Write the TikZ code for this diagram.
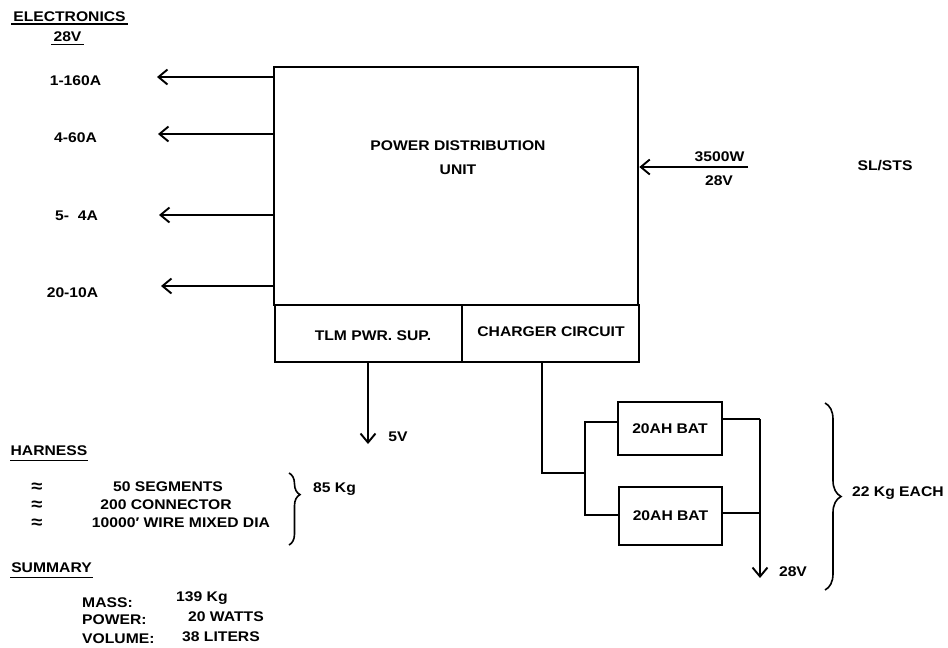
\documentclass[tikz,border=0pt]{standalone}
\usepackage{fontspec}
\setmainfont{Liberation Sans}[FakeStretch=1.12]
\usetikzlibrary{arrows.meta,decorations.pathreplacing,calc}
\begin{document}
\begin{tikzpicture}[x=1pt,y=-1pt,
  txt/.style={inner sep=0pt, font=\fontsize{14}{16}\selectfont\bfseries},
  box/.style={draw, line width=2.6pt, inner sep=0pt},
  bbox/.style={draw, line width=2.4pt, inner sep=0pt, txt},
  wire/.style={line width=1.7pt},
  arr/.style={wire, -{Straight Barb[length=9pt,width=15pt,line width=1.9pt]}},
  uline/.style={line width=1.5pt},
  brc/.style={line width=1.6pt, decorate, decoration={brace, amplitude=#1}},
  apx/.style={inner sep=0pt, font=\fontsize{18}{18}\selectfont\bfseries},
]
\useasboundingbox (0,0) rectangle (948,648);
% titles
\node[txt] (elec) at (69.5,17) {ELECTRONICS};
\draw[uline] (11,24) -- (128,24);
\node[txt] (e28) at (67.5,37) {28V};
\draw[uline] (51,44.5) -- (84,44.5);
% main box
\node[box, minimum width=364pt, minimum height=238pt] (pdu) at (456,186) {};
\node[txt, align=center] (pdutxt) at (458,158) {POWER DISTRIBUTION\\[8pt]UNIT};
\node[bbox, minimum width=187pt, minimum height=57pt] (tlm) at (368.5,333.5) {};
\node[bbox, minimum width=177pt, minimum height=57pt] (chg) at (550.5,333.5) {};
\node[txt] (tlmtxt) at (373,336) {TLM PWR. SUP.};
\node[txt] (chgtxt) at (551,331.5) {CHARGER CIRCUIT};
% outputs left
\coordinate (o1) at (157,77);
\coordinate (o2) at (158,134);
\coordinate (o3) at (159,215);
\coordinate (o4) at (161,286);
\foreach \i in {1,...,4} \draw[arr] (pdu.west |- o\i) -- (o\i);
\node[txt] (l1) at (75.5,81) {1-160A};
\node[txt] (l2) at (75.5,138) {4-60A};
\node[txt] (l3) at (76.5,216) {5-\ \ 4A};
\node[txt] (l4) at (72.5,293) {20-10A};
% input
\coordinate (inp) at (748,167);
\draw[arr] (inp) -- (pdu.east |- inp);
\node[txt] (w3500) at (719.5,157) {3500W};
\node[txt] (in28) at (719,181) {28V};
\node[txt] (sl) at (885,166) {SL/STS};
% 5V output
\coordinate (v5) at (368,444);
\draw[arr] (tlm.south -| v5) -- (v5);
\node[txt] (v5txt) at (398,437) {5V};
% batteries
\node[bbox, minimum width=104pt, minimum height=53pt] (bat1) at (670,428.5) {20AH BAT};
\node[bbox, minimum width=103pt, minimum height=58pt] (bat2) at (670.5,516) {20AH BAT};
\coordinate (cx) at (542,473);
\coordinate (jn) at (585,473);
\coordinate (b1l) at (585,422);
\coordinate (b2l) at (585,515);
\coordinate (b1r) at (760,419);
\coordinate (b2r) at (760,513);
\coordinate (v28) at (760,578);
\draw[wire] (chg.south -| cx) -- (cx) -- (jn);
\draw[wire] (bat1.west |- b1l) -- (b1l) -- (b2l) -- (bat2.west |- b2l);
\draw[wire] (bat1.east |- b1r) -- (b1r);
\draw[wire] (bat2.east |- b2r) -- (b2r);
\draw[arr] (b1r) -- (v28);
\node[txt] (v28txt) at (793,572) {28V};
\draw[brc=16pt] (825,403) -- (825,590);
\node[txt, anchor=west] (each) at (852,493) {22 Kg EACH};
% harness
\node[txt] (harn) at (49,451) {HARNESS};
\draw[uline] (10,460.5) -- (88,460.5);
\node[apx] (a1) at (37,488) {≈};
\node[apx] (a2) at (37,506) {≈};
\node[apx] (a3) at (37,524) {≈};
\node[txt] (h1) at (168,487) {50 SEGMENTS};
\node[txt] (h2) at (166,505) {200 CONNECTOR};
\node[txt] (h3) at (181,523) {10000′ WIRE MIXED DIA};
\draw[brc=11pt, decoration={aspect=0.3}] (289,473) -- (289,545);
\node[txt, anchor=west] (kg85) at (313,489) {85 Kg};
% summary
\node[txt] (summ) at (51.5,568) {SUMMARY};
\draw[uline] (10,577.5) -- (93,577.5);
\node[txt, anchor=west] (s1) at (82,603) {MASS:};
\node[txt, anchor=west] (s2) at (82,620) {POWER:};
\node[txt, anchor=west] (s3) at (82,639) {VOLUME:};
\node[txt, anchor=west] (v1) at (176,598) {139 Kg};
\node[txt, anchor=west] (v2) at (188,617) {20 WATTS};
\node[txt, anchor=west] (v3) at (182,637) {38 LITERS};
\end{tikzpicture}
\end{document}
